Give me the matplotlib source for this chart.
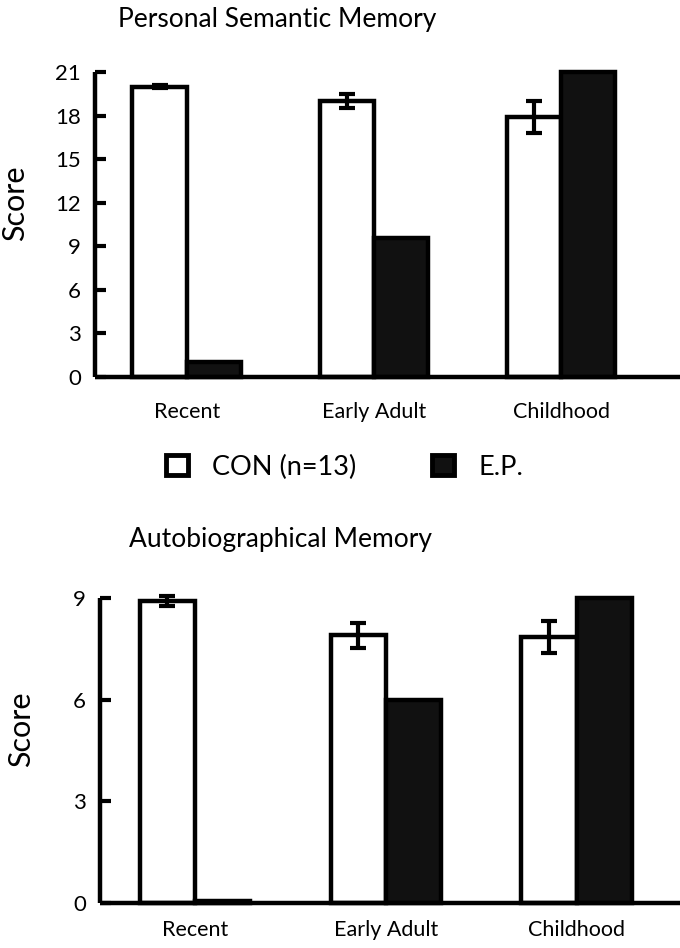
import numpy as np
import matplotlib
matplotlib.use("Agg")
import matplotlib.pyplot as plt
from matplotlib.patches import Patch

plt.rcParams['font.family'] = ['Lato', 'DejaVu Sans']

groups = ["Recent", "Early Adult", "Childhood"]

# Personal Semantic Memory
psm_con = [20.0, 19.0, 17.9]
psm_con_err = [0.12, 0.5, 1.1]
psm_ep = [1.0, 9.6, 21.0]

# Autobiographical Memory
abm_con = [8.9, 7.9, 7.85]
abm_con_err = [0.15, 0.37, 0.48]
abm_ep = [0.05, 6.0, 9.0]

W = 0.29
LW = 3.2


def draw_panel(ax, con, con_err, ep, ymax, yticks, xlim, label_pad):
    x = np.arange(len(groups))
    ax.bar(x - W / 2, con, W, color="white", edgecolor="black", linewidth=LW,
           clip_on=False, zorder=2)
    ax.bar(x + W / 2, ep, W, color="#111111", edgecolor="black", linewidth=LW,
           clip_on=False, zorder=2)
    ax.errorbar(x - W / 2, con, yerr=con_err, fmt="none", ecolor="black",
                elinewidth=3, capsize=6, capthick=3, zorder=3, clip_on=False)

    ax.set_xlim(*xlim)
    ax.set_ylim(0, ymax)
    ax.set_yticks(yticks)
    ax.set_xticks(x)
    ax.set_xticklabels(groups, fontsize=15.5)
    ax.tick_params(axis="x", length=0, pad=label_pad)
    ax.tick_params(axis="y", direction="in", length=8, width=3, labelsize=16, pad=10)

    for s in ["top", "right"]:
        ax.spines[s].set_visible(False)
    for s in ["left", "bottom"]:
        ax.spines[s].set_linewidth(3.2)
        ax.spines[s].set_capstyle("butt")

    ax.set_ylabel("Score", fontsize=22)
    ax.yaxis.set_label_coords(-0.112, 0.57)


fig = plt.figure(figsize=(6.8, 9.48), dpi=100)

ax1 = fig.add_axes([95 / 680, 571 / 948, 585 / 680, 305 / 948])
draw_panel(ax1, psm_con, psm_con_err, psm_ep, 21, [0, 3, 6, 9, 12, 15, 18, 21],
           (-0.49, 2.635), 18)
fig.text(0.408, 1 - 20 / 948, "Personal Semantic Memory", fontsize=19,
         ha="center", va="center")

ax2 = fig.add_axes([100 / 680, 45 / 948, 580 / 680, 305 / 948])
draw_panel(ax2, abm_con, abm_con_err, abm_ep, 9, [0, 3, 6, 9],
           (-0.497, 2.54), 12)
fig.text(0.413, 1 - 540 / 948, "Autobiographical Memory", fontsize=19,
         ha="center", va="center")

handles = [Patch(facecolor="white", edgecolor="black", linewidth=3.5, label="CON (n=13)"),
           Patch(facecolor="#111111", edgecolor="black", linewidth=3.5, label="E.P.")]
fig.legend(handles=handles, loc="center", bbox_to_anchor=(0.507, 1 - 467 / 948),
           ncol=2, frameon=False, fontsize=19.5, handlelength=0.8, handleheight=0.8,
           handletextpad=0.9, columnspacing=2.8)

fig.savefig("out.png", dpi=100)
